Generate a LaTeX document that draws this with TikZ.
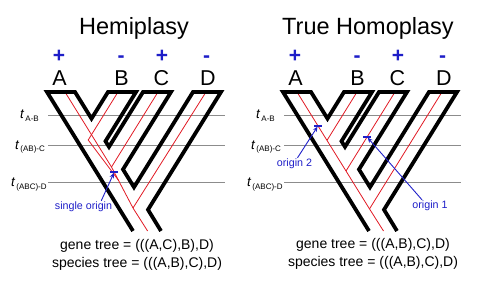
\documentclass[tikz,border=0pt]{standalone}
\usepackage{fontspec}
\setmainfont{Liberation Sans}
\usetikzlibrary{arrows.meta,calc}

\definecolor{markblue}{RGB}{30,30,200}
\definecolor{genered}{RGB}{225,25,35}
\newcommand{\epochlab}[1]{{\fontsize{13.5}{14}\selectfont\itshape t}\kern1.5pt\raisebox{-2.5pt}{\fontsize{8}{9}\selectfont #1}}

\begin{document}
\begin{tikzpicture}[x=1pt, y=-1pt,
    tube/.style={line width=3.8pt, line join=miter},
    gene/.style={genered, line width=0.8pt},
    epoch/.style={black!45, line width=0.7pt},
    title/.style={anchor=base, inner sep=0pt, font=\fontsize{23.5}{24}\selectfont},
    tip/.style={anchor=base, inner sep=0pt, font=\fontsize{21.5}{22}\selectfont},
    sign/.style={anchor=base, inner sep=0pt, markblue, font=\fontsize{21}{22}\selectfont\bfseries},
    epochtag/.style={anchor=base west, inner sep=0pt},
    tree/.style={anchor=base, inner sep=0pt, font=\fontsize{14}{15}\selectfont},
    note/.style={markblue, inner sep=1pt, font=\fontsize{10.7}{11}\selectfont},
    mutation/.style={markblue, line width=1.4pt},
    pointer/.style={markblue, line width=0.9pt, shorten >=1pt, -{Stealth[length=5pt, width=4.5pt]}}
    ]
\useasboundingbox (0,0) rectangle (500,283);

% time slices, tips and states
\foreach \dx/\p in {0/L, 236/R} {
  \begin{scope}[xshift=\dx pt]
    \draw[epoch] (48,115) -- (225,115);
    \draw[epoch] (48,145) -- (225,145);
    \draw[epoch] (48,182) -- (225,182);
    \node[epochtag] (tAB\p) at (20,119) {\epochlab{A-B}};
    \node[epochtag] (tABC\p) at (15,149.5) {\epochlab{(AB)-C}};
    \node[epochtag] (tABCD\p) at (11,186.5) {\epochlab{(ABC)-D}};
    \foreach \lab/\px/\sx/\sg in {A/59.5/59/+, B/121.5/121/-, C/161.5/162/+, D/208/206.5/-} {
      \node[tip] (\lab\p) at (\px,86) {\lab};
      \node[sign] (s\lab\p) at (\sx,63) {\sg};
    }
  \end{scope}
}

% gene tree (((A,C),B),D)
\coordinate (gA) at (65,92);
\coordinate (gB) at (118,92);
\coordinate (gC) at (158,92);
\coordinate (gD) at (206,92);
\coordinate (bcross) at (88.2,140);
\coordinate (jAC) at (111.5,167);
\coordinate (jACB) at (118.3,180);
\coordinate (jRoot) at (133,208);
\coordinate (gEnd) at (147.6,231);
\draw[gene] (gA) -- (jAC) -- (jACB) -- (jRoot) -- (gEnd);
\draw[gene] (gC) -- (jAC);
\draw[gene] (gB) -- (bcross) -- (jACB);
\draw[gene] (gD) -- (jRoot);

% gene tree (((A,B),C),D)
\begin{scope}[xshift=236pt]
  \coordinate (hA) at (61,92);
  \coordinate (hB) at (121,92);
  \coordinate (hC) at (159,92);
  \coordinate (hD) at (206,92);
  \coordinate (kAB) at (91,140.4);
  \coordinate (kABC) at (110,171);
  \coordinate (kRoot) at (133.5,208.9);
  \coordinate (hEnd) at (147.5,231);
  \draw[gene] (hA) -- (kAB) -- (kABC) -- (kRoot) -- (hEnd);
  \draw[gene] (hB) -- (kAB);
  \draw[gene] (hC) -- (kABC);
  \draw[gene] (hD) -- (kRoot);
\end{scope}

% species tree
\foreach \dx in {0,236}
  \draw[tube, xshift=\dx pt] (133,231) -- (47,92) -- (75,92) -- (91.5,118.6) -- (108,92) -- (136,92)
    -- (105.5,141.2) -- (109,146.8) -- (143,92) -- (171,92) -- (123,169.4) -- (134,187.2)
    -- (193,92) -- (221,92) -- (148,209.7) -- (161,231);

% left panel
\node[title] (hemi) at (134,35) {Hemiplasy};
\coordinate (mutL) at ($(jAC)!0.4!(jACB)$);
\draw[mutation] ([xshift=-4pt]mutL) -- ([xshift=4pt]mutL);
\node[note] (single) at (83.5,207) {single origin};
\draw[pointer] ([xshift=-12pt]single.north east) -- (mutL);
\node[tree] (geneL) at (137,249.5) {gene tree = (((A,C),B),D)};
\node[tree] (specL) at (137,267.5) {species tree = (((A,B),C),D)};

% right panel
\node[title] (homo) at (368,35) {True Homoplasy};
\begin{scope}[xshift=236pt]
  \coordinate (mutA) at ($(hA)!0.7!(kAB)$);
  \coordinate (mutC) at ($(hC)!0.57!(kABC)$);
  \draw[mutation] ([xshift=-4pt]mutA) -- ([xshift=4pt]mutA);
  \draw[mutation] ([xshift=-4pt]mutC) -- ([xshift=4pt]mutC);
  \node[note] (orig2) at (58.5,164) {origin 2};
  \node[note] (orig1) at (194,206) {origin 1};
  \draw[pointer] ([xshift=3pt]orig2.north) -- (mutA);
  \draw[pointer] ([xshift=-8pt]orig1.north) -- (mutC);
\end{scope}
\node[tree] (geneR) at (373,248.5) {gene tree = (((A,B),C),D)};
\node[tree] (specR) at (373,266.7) {species tree = (((A,B),C),D)};
\end{tikzpicture}
\end{document}
